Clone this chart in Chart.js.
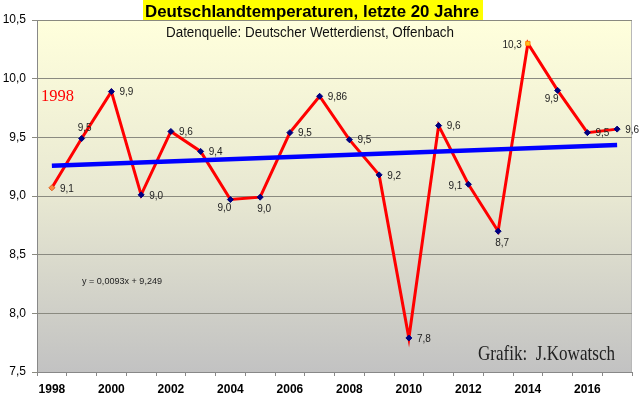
<!DOCTYPE html>
<html>
<head>
    <title>Deutschlandtemperaturen</title>
    <style>
        body { margin: 0; background: #ffffff; }
        .wrap { width: 640px; height: 396px; }
    </style>
    <script src="https://cdn.jsdelivr.net/npm/chart.js@4.4.0/dist/chart.umd.min.js"></script>
</head>
<body>
    <div class="wrap"><canvas id="tempChart" width="640" height="396"></canvas></div>

    <script>
        // Data (annual mean, °C)
        const years = ['1998', '1999', '2000', '2001', '2002', '2003', '2004', '2005', '2006', '2007',
                       '2008', '2009', '2010', '2011', '2012', '2013', '2014', '2015', '2016', '2017'];
        const temps = [9.07, 9.49, 9.89, 9.01, 9.55, 9.38, 8.97, 8.99, 9.54, 9.85,
                       9.48, 9.18, 7.79, 9.60, 9.10, 8.70, 10.30, 9.90, 9.54, 9.57];
        const pointLabels = ['9,1', '9,5', '9,9', '9,0', '9,6', '9,4', '9,0', '9,0', '9,5', '9,86',
                             '9,5', '9,2', '7,8', '9,6', '9,1', '8,7', '10,3', '9,9', '9,5', '9,6'];
        // linear trend endpoints (y = 0,0093x + 9,249)
        const trendStart = 9.258;
        const trendEnd = 9.435;
        const yTicks = [7.5, 8.0, 8.5, 9.0, 9.5, 10.0, 10.5];

        // where each value label sits relative to its point
        const labelPlace = ['r', 't', 'r', 'r', 'r', 'r', 'bl', 'b', 'r', 'r',
                            'r', 'r', 'r', 'r', 'l', 'b', 'l', 'bl', 'r', 'r'];

        const trendData = years.map((y, i) => i === 0 ? trendStart : (i === years.length - 1 ? trendEnd : null));

        const pointColors = years.map(y => y === '1998' ? '#FF8C40' : (y === '2014' ? '#FFC020' : '#000080'));
        const pointBorders = years.map(y => y === '1998' ? '#E06020' : (y === '2014' ? '#FF8000' : '#000080'));
        const pointShapes = years.map(y => y === '2014' ? 'rect' : 'rectRot');

        // draw text squeezed/stretched to a given width
        function fitText(ctx, text, x, y, width) {
            const w = ctx.measureText(text).width;
            ctx.save();
            ctx.translate(x, y);
            ctx.scale(width / w, 1);
            ctx.fillText(text, 0, 0);
            ctx.restore();
        }

        const bgPlugin = {
            id: 'plotBg',
            beforeDraw(chart) {
                const { ctx, chartArea: a } = chart;
                const g = ctx.createLinearGradient(0, a.top, 0, a.bottom);
                g.addColorStop(0, '#FFFFDC');
                g.addColorStop(0.5, '#E8E8D2');
                g.addColorStop(1, '#C2C2C2');
                ctx.save();
                ctx.fillStyle = g;
                ctx.fillRect(a.left, a.top, a.right - a.left, a.bottom - a.top);
                ctx.strokeStyle = '#B8B8B8';
                ctx.lineWidth = 1;
                ctx.strokeRect(a.left + 0.5, a.top + 0.5, a.right - a.left - 1, a.bottom - a.top);
                ctx.restore();
            }
        };

        const textPlugin = {
            id: 'texts',
            afterDatasetsDraw(chart) {
                const ctx = chart.ctx;
                ctx.save();

                // value labels
                const meta = chart.getDatasetMeta(1);
                ctx.font = '10px "Liberation Sans", Arial, sans-serif';
                ctx.fillStyle = '#222222';
                meta.data.forEach((pt, i) => {
                    let x = pt.x, y = pt.y;
                    const p = labelPlace[i];
                    ctx.textBaseline = 'middle';
                    if (p === 'r') { ctx.textAlign = 'left'; x += 8; y += 1; }
                    else if (p === 'l') { ctx.textAlign = 'right'; x -= 6; y += 2; }
                    else if (p === 't') { ctx.textAlign = 'center'; x += 3; y -= 10; }
                    else if (p === 'b') { ctx.textAlign = 'center'; x += 4; y += 12; }
                    else if (p === 'bl') { ctx.textAlign = 'center'; x -= 6; y += 9; }
                    ctx.fillText(pointLabels[i], x, y);
                });

                // title box
                ctx.font = 'bold 17px "Liberation Sans", Arial, sans-serif';
                ctx.textAlign = 'left';
                ctx.textBaseline = 'alphabetic';
                ctx.fillStyle = '#FFFF00';
                ctx.fillRect(143, 0, 340, 20);
                ctx.fillStyle = '#000000';
                fitText(ctx, 'Deutschlandtemperaturen, letzte 20 Jahre', 145, 16.5, 334);

                ctx.font = '14px "Liberation Sans", Arial, sans-serif';
                ctx.fillStyle = '#111111';
                fitText(ctx, 'Datenquelle: Deutscher Wetterdienst, Offenbach', 166, 37, 288);

                ctx.font = '17px "Liberation Serif", "Times New Roman", serif';
                ctx.fillStyle = '#FF0000';
                fitText(ctx, '1998', 41, 101, 33);

                ctx.font = '21px "Liberation Serif", "Times New Roman", serif';
                ctx.fillStyle = '#222222';
                fitText(ctx, 'Grafik:  J.Kowatsch', 478, 360, 137);

                ctx.font = '9px "Liberation Sans", Arial, sans-serif';
                ctx.fillStyle = '#222222';
                fitText(ctx, 'y = 0,0093x + 9,249', 82, 284, 80);

                ctx.restore();
            }
        };

        new Chart(document.getElementById('tempChart'), {
            type: 'line',
            data: {
                labels: years,
                datasets: [
                    {
                        label: 'Trend',
                        data: trendData,
                        borderColor: '#0000FF',
                        borderWidth: 4.5,
                        pointRadius: 0,
                        spanGaps: true,
                        tension: 0
                    },
                    {
                        label: 'Jahresmittel',
                        data: temps,
                        borderColor: '#FF0000',
                        borderWidth: 3,
                        tension: 0,
                        pointStyle: pointShapes,
                        pointRadius: 3,
                        pointBackgroundColor: pointColors,
                        pointBorderColor: pointBorders,
                        pointBorderWidth: 1
                    }
                ]
            },
            options: {
                responsive: false,
                animation: false,
                layout: { padding: { top: 20, right: 8, left: 0, bottom: 0 } },
                plugins: {
                    legend: { display: false },
                    tooltip: { enabled: false }
                },
                scales: {
                    x: {
                        offset: true,
                        grid: {
                            offset: true,
                            drawOnChartArea: false,
                            drawTicks: true,
                            tickLength: 4,
                            color: '#888888'
                        },
                        border: { color: '#888888', width: 1 },
                        ticks: {
                            autoSkip: false,
                            maxRotation: 0,
                            padding: 6,
                            color: '#000000',
                            font: { family: '"Liberation Sans", Arial, sans-serif', size: 12, weight: 'bold' },
                            callback: function (v, i) { return i % 2 === 0 ? years[i] : ''; }
                        },
                        afterFit: function (s) { s.height = 24; }
                    },
                    y: {
                        min: 7.5,
                        max: 10.5,
                        afterBuildTicks: function (s) { s.ticks = yTicks.map(v => ({ value: v })); },
                        grid: {
                            color: '#8A8A80',
                            lineWidth: 1,
                            tickLength: 5
                        },
                        border: { color: '#888888', width: 1 },
                        ticks: {
                            padding: 6,
                            color: '#000000',
                            font: { family: '"Liberation Sans", Arial, sans-serif', size: 12 },
                            callback: function (v) { return v.toFixed(1).replace('.', ','); }
                        },
                        afterFit: function (s) { s.width = 37; }
                    }
                }
            },
            plugins: [bgPlugin, textPlugin]
        });
    </script>
</body>
</html>
